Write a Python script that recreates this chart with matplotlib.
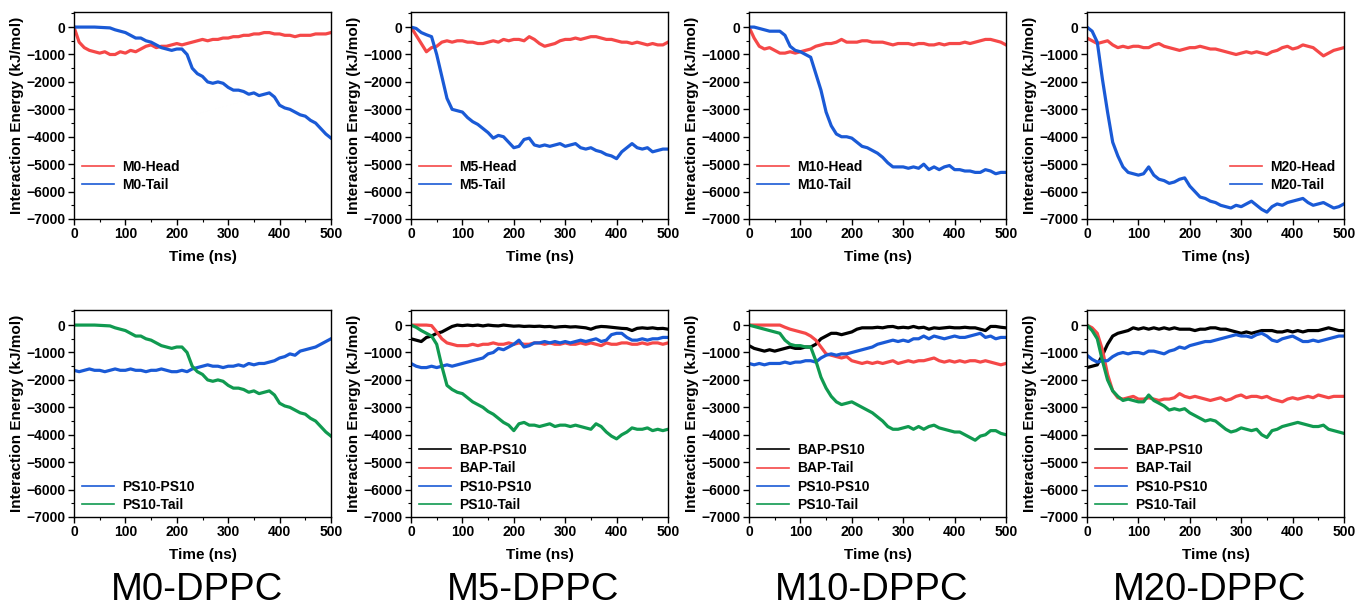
import matplotlib
matplotlib.use("Agg")
import matplotlib.pyplot as plt
import numpy as np
from matplotlib.ticker import MultipleLocator

plt.rcParams["font.family"] = ["Liberation Sans", "DejaVu Sans"]
plt.rcParams["font.weight"] = "bold"

RED = "#f54848"
BLUE = "#1a5ad6"
GREEN = "#109a50"
BLACK = "#000000"

# simulation time, ns (sampled every 10 ns)
time_ns = np.arange(0, 501, 10)

# ---- top row: headgroup / tail interaction energies (kJ/mol) ----
m0_head = [0, -550, -750, -850, -900, -950, -900, -1000, -1000, -900,
           -950, -850, -900, -800, -700, -650, -750, -700, -700, -650,
           -600, -650, -600, -550, -500, -450, -500, -450, -450, -400,
           -400, -350, -350, -300, -300, -250, -250, -200, -200, -250,
           -250, -300, -300, -350, -300, -300, -300, -250, -250, -250, -200]
m0_tail = [0, 0, 0, 0, 0, -10, -20, -30, -100, -150,
           -200, -300, -400, -400, -500, -550, -650, -750, -800, -850,
           -800, -800, -1000, -1500, -1700, -1800, -2000, -2050, -2000, -2050,
           -2200, -2300, -2300, -2350, -2450, -2400, -2500, -2450, -2400, -2550,
           -2850, -2950, -3000, -3100, -3200, -3250, -3400, -3500, -3700, -3900, -4050]

m5_head = [0, -300, -600, -900, -750, -700, -550, -500, -550, -500,
           -500, -550, -550, -600, -600, -550, -500, -550, -450, -500,
           -450, -450, -500, -350, -450, -600, -700, -650, -600, -500,
           -450, -450, -400, -450, -400, -350, -350, -400, -450, -450,
           -500, -550, -550, -600, -550, -600, -650, -600, -650, -650, -550]
m5_tail = [0, -50, -200, -280, -350, -1000, -1800, -2600, -3000, -3050,
           -3100, -3300, -3450, -3550, -3700, -3850, -4050, -3950, -4000, -4200,
           -4400, -4350, -4100, -4050, -4300, -4350, -4300, -4350, -4300, -4250,
           -4350, -4300, -4250, -4400, -4450, -4400, -4500, -4550, -4650, -4700,
           -4800, -4550, -4400, -4250, -4400, -4450, -4400, -4550, -4500, -4450, -4450]

m10_head = [0, -400, -700, -800, -750, -850, -950, -950, -900, -950,
            -900, -850, -800, -700, -650, -600, -600, -550, -450, -550,
            -550, -550, -500, -500, -550, -550, -550, -600, -650, -600,
            -600, -600, -650, -600, -600, -650, -650, -600, -650, -600,
            -600, -600, -550, -600, -550, -500, -450, -450, -500, -550, -650]
m10_tail = [0, 0, -50, -100, -150, -150, -150, -300, -700, -850,
            -900, -1000, -1100, -1700, -2300, -3100, -3600, -3900, -4000, -4000,
            -4050, -4200, -4350, -4400, -4500, -4600, -4750, -4950, -5100, -5100,
            -5100, -5150, -5100, -5150, -5000, -5200, -5100, -5200, -5100, -5050,
            -5200, -5200, -5250, -5250, -5300, -5300, -5200, -5250, -5350, -5300, -5300]

m20_head = [-400, -500, -600, -550, -500, -650, -750, -700, -750, -700,
            -700, -750, -750, -650, -600, -700, -750, -800, -850, -800,
            -750, -750, -700, -750, -800, -800, -850, -900, -950, -1000,
            -950, -900, -950, -900, -950, -1000, -900, -850, -750, -700,
            -800, -750, -650, -700, -750, -900, -1050, -950, -850, -800, -750]
m20_tail = [0, -150, -550, -1900, -3100, -4200, -4700, -5100, -5300, -5350,
            -5400, -5350, -5100, -5400, -5550, -5600, -5700, -5650, -5550, -5500,
            -5800, -6000, -6200, -6250, -6350, -6400, -6500, -6550, -6600, -6500,
            -6550, -6450, -6350, -6500, -6650, -6750, -6550, -6450, -6500, -6400,
            -6350, -6300, -6250, -6400, -6500, -6450, -6400, -6500, -6600, -6550, -6450]

# ---- bottom row: BAP / PS10 interaction energies (kJ/mol) ----
m0_ps_ps = [-1650, -1700, -1650, -1600, -1650, -1650, -1700, -1650, -1600, -1650,
            -1650, -1600, -1650, -1650, -1700, -1650, -1650, -1600, -1650, -1700,
            -1700, -1650, -1700, -1600, -1550, -1500, -1450, -1500, -1500, -1550,
            -1500, -1500, -1450, -1500, -1400, -1450, -1400, -1400, -1350, -1300,
            -1200, -1150, -1050, -1100, -950, -900, -850, -800, -700, -600, -500]
m0_ps_tail = m0_tail  # identical trace to M0-Tail

m5_bap_ps = [-500, -550, -600, -450, -400, -300, -250, -150, -50, 0,
             -20, 0, -20, 0, -30, 0, -20, -30, 0, -20,
             -40, -30, -50, -40, -50, -40, -60, -50, -80, -60,
             -50, -70, -60, -80, -100, -150, -80, -50, -60, -80,
             -100, -120, -130, -200, -120, -100, -120, -100, -130, -120, -150]
m5_bap_tail = [0, 0, 0, 0, -20, -250, -500, -650, -700, -750,
               -750, -750, -700, -750, -700, -700, -650, -700, -700, -650,
               -700, -650, -700, -700, -650, -650, -700, -650, -700, -700,
               -650, -700, -700, -650, -700, -650, -700, -750, -650, -700,
               -700, -650, -650, -700, -700, -650, -700, -650, -650, -700, -650]
m5_ps_ps = [-1400, -1500, -1550, -1550, -1500, -1550, -1500, -1450, -1500, -1450,
            -1400, -1350, -1300, -1250, -1200, -1050, -1000, -850, -900, -800,
            -700, -550, -800, -750, -650, -650, -600, -650, -600, -650,
            -600, -650, -600, -550, -600, -550, -500, -600, -550, -350,
            -300, -300, -450, -550, -550, -500, -550, -500, -500, -450, -450]
m5_ps_tail = [0, -80, -200, -300, -400, -700, -1500, -2200, -2350, -2450,
              -2500, -2650, -2800, -2900, -3000, -3150, -3250, -3400, -3550, -3650,
              -3850, -3600, -3550, -3650, -3650, -3700, -3650, -3600, -3700, -3650,
              -3650, -3700, -3650, -3700, -3750, -3800, -3600, -3700, -3900, -4050,
              -4150, -4000, -3900, -3750, -3800, -3800, -3750, -3850, -3800, -3850, -3800]

m10_bap_ps = [-750, -850, -900, -950, -900, -950, -900, -850, -800, -850,
              -850, -800, -800, -700, -500, -400, -300, -300, -350, -300,
              -250, -150, -100, -100, -100, -80, -100, -60, -50, -100,
              -80, -100, -50, -100, -80, -150, -100, -120, -100, -80,
              -100, -100, -80, -100, -100, -150, -200, -50, -50, -80, -100]
m10_bap_tail = [0, 0, 0, 0, 0, 0, 0, -80, -150, -200,
                -250, -300, -400, -550, -800, -1050, -1100, -1150, -1200, -1150,
                -1300, -1350, -1400, -1350, -1400, -1350, -1400, -1350, -1300, -1400,
                -1350, -1300, -1350, -1300, -1300, -1250, -1200, -1300, -1350, -1300,
                -1350, -1300, -1350, -1300, -1300, -1350, -1300, -1350, -1400, -1450, -1400]
m10_ps_ps = [-1400, -1450, -1400, -1450, -1400, -1400, -1400, -1350, -1400, -1350,
             -1350, -1300, -1300, -1350, -1200, -1100, -1050, -1100, -1050, -1050,
             -1000, -950, -900, -850, -800, -700, -650, -600, -550, -600,
             -550, -600, -500, -500, -400, -500, -400, -450, -500, -450,
             -400, -450, -450, -400, -350, -300, -450, -400, -500, -450, -450]
m10_ps_tail = [0, -50, -100, -150, -200, -250, -300, -550, -700, -750,
               -750, -800, -800, -1300, -1900, -2300, -2600, -2800, -2900, -2850,
               -2800, -2900, -3000, -3100, -3200, -3350, -3500, -3700, -3800, -3800,
               -3750, -3700, -3800, -3700, -3800, -3700, -3650, -3750, -3800, -3850,
               -3900, -3900, -4000, -4100, -4200, -4050, -4000, -3850, -3850, -3950, -4000]

m20_bap_ps = [-1550, -1500, -1450, -1100, -700, -400, -300, -250, -200, -100,
              -150, -100, -150, -100, -150, -100, -150, -100, -150, -150,
              -150, -200, -150, -150, -100, -100, -150, -150, -200, -250,
              -300, -250, -300, -250, -200, -200, -200, -250, -250, -200,
              -250, -200, -250, -200, -200, -200, -150, -100, -150, -200, -200]
m20_bap_tail = [0, -100, -300, -900, -1800, -2400, -2650, -2700, -2650, -2600,
                -2700, -2700, -2650, -2700, -2750, -2700, -2700, -2650, -2500, -2600,
                -2650, -2600, -2650, -2700, -2750, -2700, -2650, -2750, -2700, -2600,
                -2550, -2650, -2600, -2600, -2650, -2600, -2700, -2750, -2800, -2700,
                -2650, -2700, -2650, -2600, -2650, -2550, -2600, -2650, -2600, -2600, -2600]
m20_ps_ps = [-1100, -1250, -1350, -1300, -1300, -1150, -1050, -1000, -1050, -1000,
             -1000, -1050, -950, -950, -1000, -1050, -950, -900, -800, -850,
             -750, -700, -650, -600, -600, -550, -500, -450, -400, -350,
             -400, -400, -450, -350, -300, -400, -550, -600, -500, -450,
             -400, -500, -600, -600, -550, -600, -550, -500, -450, -400, -400]
m20_ps_tail = [0, -200, -500, -1300, -2000, -2400, -2600, -2750, -2700, -2750,
               -2800, -2800, -2550, -2750, -2850, -2950, -3100, -3050, -3100, -3050,
               -3200, -3300, -3400, -3500, -3450, -3500, -3650, -3800, -3900, -3850,
               -3750, -3800, -3850, -3800, -4000, -4100, -3850, -3800, -3700, -3650,
               -3600, -3550, -3600, -3650, -3700, -3700, -3650, -3800, -3850, -3900, -3950]

systems = ["M0", "M5", "M10", "M20"]
top_series = [
    [("M0-Head", m0_head, RED), ("M0-Tail", m0_tail, BLUE)],
    [("M5-Head", m5_head, RED), ("M5-Tail", m5_tail, BLUE)],
    [("M10-Head", m10_head, RED), ("M10-Tail", m10_tail, BLUE)],
    [("M20-Head", m20_head, RED), ("M20-Tail", m20_tail, BLUE)],
]
bottom_series = [
    [("PS10-PS10", m0_ps_ps, BLUE), ("PS10-Tail", m0_ps_tail, GREEN)],
    [("BAP-PS10", m5_bap_ps, BLACK), ("BAP-Tail", m5_bap_tail, RED),
     ("PS10-PS10", m5_ps_ps, BLUE), ("PS10-Tail", m5_ps_tail, GREEN)],
    [("BAP-PS10", m10_bap_ps, BLACK), ("BAP-Tail", m10_bap_tail, RED),
     ("PS10-PS10", m10_ps_ps, BLUE), ("PS10-Tail", m10_ps_tail, GREEN)],
    [("BAP-PS10", m20_bap_ps, BLACK), ("BAP-Tail", m20_bap_tail, RED),
     ("PS10-PS10", m20_ps_ps, BLUE), ("PS10-Tail", m20_ps_tail, GREEN)],
]

W, H = 1356, 608
lefts = [74, 411, 749, 1087]
ax_w, ax_h = 257, 207
tops = [12, 310]


def style_axes(ax):
    ax.set_xlim(0, 500)
    ax.set_ylim(-7000, 550)
    ax.xaxis.set_major_locator(MultipleLocator(100))
    ax.xaxis.set_minor_locator(MultipleLocator(50))
    ax.yaxis.set_major_locator(MultipleLocator(1000))
    ax.yaxis.set_minor_locator(MultipleLocator(500))
    ax.tick_params(which="major", direction="out", length=4, width=1, labelsize=10, pad=2)
    ax.tick_params(which="minor", direction="out", length=2.5, width=0.8)
    for sp in ax.spines.values():
        sp.set_linewidth(1.0)
    ax.set_xlabel("Time (ns)", fontsize=11, fontweight="bold", labelpad=6)
    ax.set_ylabel("Interaction Energy (kJ/mol)", fontsize=11, fontweight="bold", labelpad=2)


def add_legend(ax, loc, anchor):
    leg = ax.legend(loc=loc, bbox_to_anchor=anchor, frameon=False,
                    fontsize=10, handlelength=2.3, labelspacing=0.3,
                    borderaxespad=0.2, handletextpad=0.6)
    for line in leg.get_lines():
        line.set_linewidth(1.2)


fig = plt.figure(figsize=(W / 100, H / 100), dpi=100)

for col, (left, top_list, bot_list, name) in enumerate(zip(lefts, top_series, bottom_series, systems)):
    for row, series in enumerate([top_list, bot_list]):
        top = tops[row]
        ax = fig.add_axes([left / W, 1 - (top + ax_h) / H, ax_w / W, ax_h / H])
        for label, vals, color in series:
            ax.plot(time_ns, vals, color=color, lw=2.3, label=label)
        style_axes(ax)
        if row == 0 and col == 3:
            add_legend(ax, "lower right", (1.0, 0.09))
        elif row == 0:
            add_legend(ax, "lower left", (0.0, 0.09))
        else:
            add_legend(ax, "lower left", (0.0, -0.015))
    cx = (left + ax_w / 2 - 6) / W
    fig.text(cx, 1 - 590 / H, f"{name}-DPPC", ha="center", va="center",
             fontsize=27.5, fontweight="normal")

fig.savefig("out.png", dpi=100)
